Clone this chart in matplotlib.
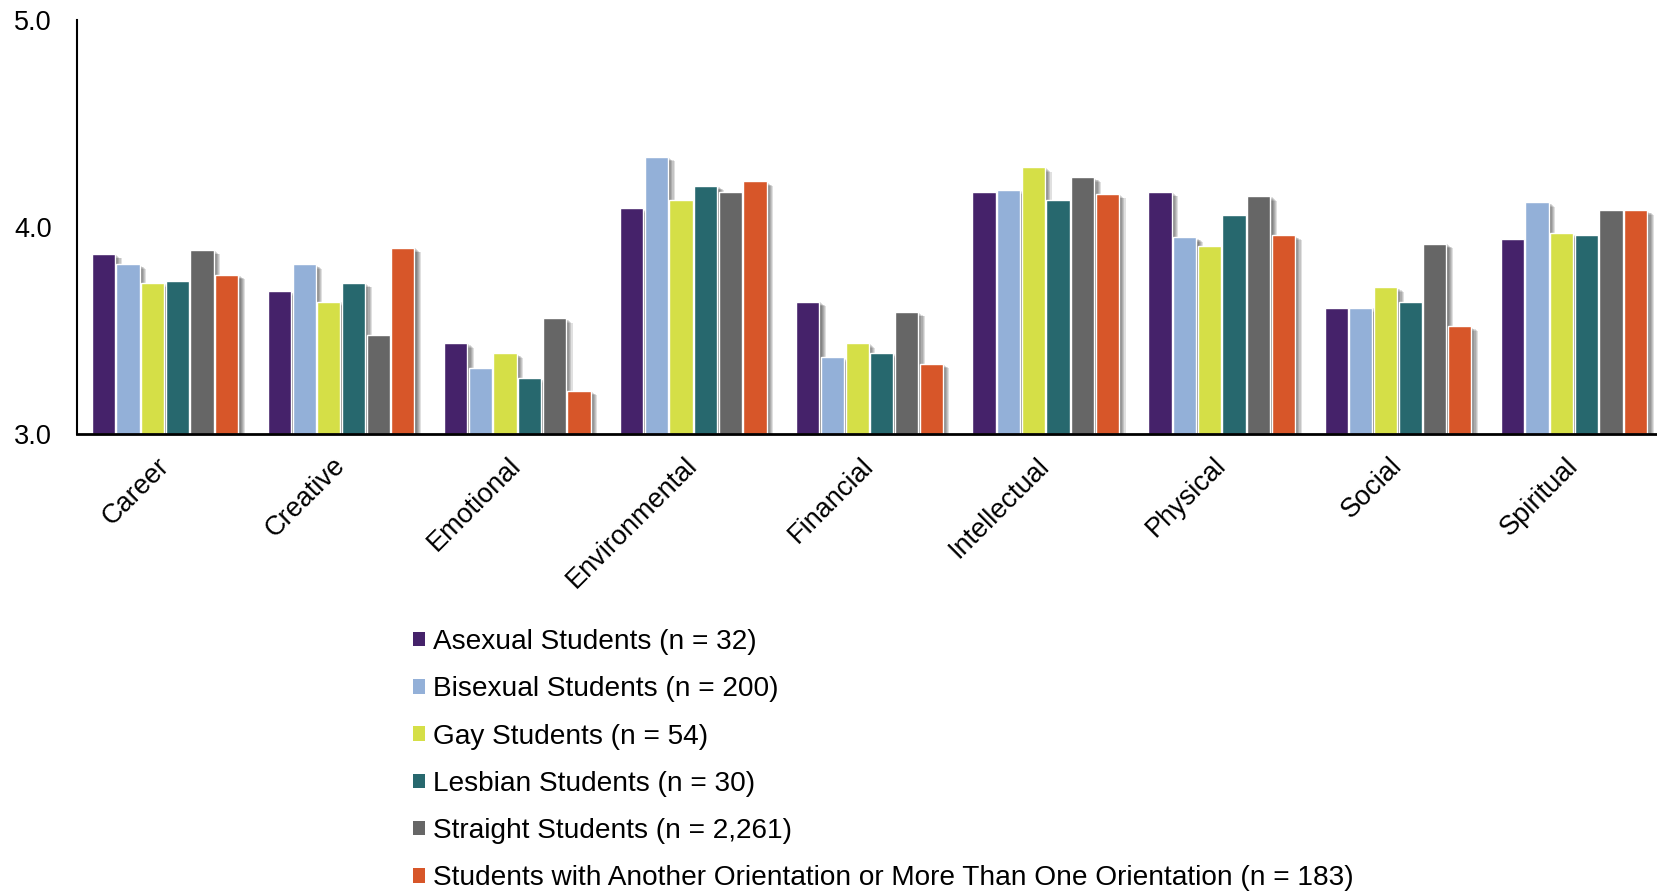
import matplotlib
matplotlib.use("Agg")
import matplotlib.pyplot as plt
import matplotlib.patheffects as pe
from matplotlib.patches import Patch
import numpy as np

plt.rcParams['font.family'] = ['Liberation Sans', 'DejaVu Sans']

categories = ["Career", "Creative", "Emotional", "Environmental", "Financial",
              "Intellectual", "Physical", "Social", "Spiritual"]

series_names = [
    "Asexual Students (n = 32)",
    "Bisexual Students (n = 200)",
    "Gay Students (n = 54)",
    "Lesbian Students (n = 30)",
    "Straight Students (n = 2,261)",
    "Students with Another Orientation or More Than One Orientation (n = 183)",
]

asexual  = [3.87, 3.69, 3.44, 4.09, 3.64, 4.17, 4.17, 3.61, 3.94]
bisexual = [3.82, 3.82, 3.32, 4.34, 3.37, 4.18, 3.95, 3.61, 4.12]
gay      = [3.73, 3.64, 3.39, 4.13, 3.44, 4.29, 3.91, 3.71, 3.97]
lesbian  = [3.74, 3.73, 3.27, 4.20, 3.39, 4.13, 4.06, 3.64, 3.96]
straight = [3.89, 3.48, 3.56, 4.17, 3.59, 4.24, 4.15, 3.92, 4.08]
other    = [3.77, 3.90, 3.21, 4.22, 3.34, 4.16, 3.96, 3.52, 4.08]

series_values = [asexual, bisexual, gay, lesbian, straight, other]
colors = ["#45226A", "#93B0D8", "#D5DF47", "#27686E", "#666666", "#D75629"]

yticks = [3.0, 4.0, 5.0]
ytick_labels = ["3.0", "4.0", "5.0"]

W, H = 1657, 893
fig = plt.figure(figsize=(W / 100, H / 100), dpi=100)
ax = fig.add_axes([77 / W, (H - 434) / H, 1 - 77 / W + 0.003, (434 - 20) / H])

x = np.arange(len(categories))
slot = 0.14
bw = 0.132
n = len(series_values)

shadow = [pe.SimplePatchShadow(offset=(k * 0.8, -k * 0.55), shadow_rgbFace="#000000", alpha=0.12)
          for k in range(6, 0, -1)] + [pe.Normal()]

for i, (vals, c) in enumerate(zip(series_values, colors)):
    offs = (i - (n - 1) / 2) * slot
    bars = ax.bar(x + offs, np.array(vals) - 3.0, bottom=3.0, width=bw, color=c,
                  edgecolor="white", linewidth=1.0, label=series_names[i], zorder=2 + i)
    for b in bars:
        b.set_path_effects(shadow)

ax.set_xlim(-0.5, 8.5)
ax.set_ylim(3.0, 5.0)
ax.set_yticks(yticks)
ax.set_yticklabels(ytick_labels)
ax.set_xticks(x)
ax.set_xticklabels(categories, rotation=45, ha="right", va="center", rotation_mode="anchor")

for s in ["top", "right"]:
    ax.spines[s].set_visible(False)
ax.spines["left"].set_linewidth(1.5)
ax.spines["bottom"].set_linewidth(2.0)
ax.spines["left"].set_color("black")
ax.spines["bottom"].set_color("black")
ax.spines["bottom"].set_zorder(20)
ax.tick_params(axis="both", length=0, labelsize=19.5, colors="black")
ax.tick_params(axis="y", pad=18)
ax.tick_params(axis="x", pad=20)

handles = [Patch(facecolor=c, edgecolor="none") for c in colors]
fig.legend(handles, series_names, loc="upper left", bbox_to_anchor=(413 / W, (H - 629) / H),
           frameon=False, fontsize=20.15, borderpad=0, borderaxespad=0,
           handlelength=0.42, handleheight=0.42, handletextpad=0.3, labelspacing=0.76)

fig.savefig("out.png", dpi=100)
